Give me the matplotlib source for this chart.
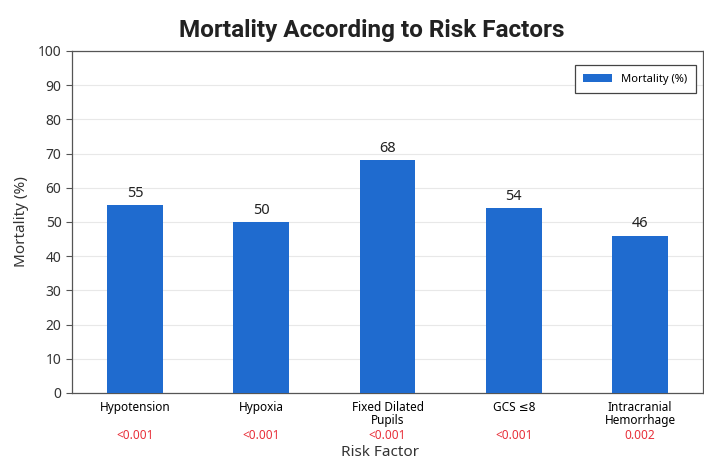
import numpy as np
import matplotlib.pyplot as plt
import matplotlib.transforms as mtransforms

plt.rcParams['font.family'] = ['Noto Sans', 'DejaVu Sans']

# Données
factors = ['Hypotension', 'Hypoxia', 'Fixed Dilated\nPupils', 'GCS ≤8', 'Intracranial\nHemorrhage']
mortality = [55, 50, 68, 54, 46]
p_values = ['<0.001', '<0.001', '<0.001', '<0.001', '0.002']

fig = plt.figure(figsize=(7.04, 4.59), dpi=100)
ax = fig.add_axes([0.102, 0.144, 0.897, 0.745])

x = np.arange(len(factors))
bars = ax.bar(x, mortality, width=0.44, color='#1f6bcf', label='Mortality (%)', zorder=3)

# Valeurs au-dessus des barres
for xi, v in zip(x, mortality):
    ax.annotate(f'{v}', xy=(xi, v), xytext=(0, 3), textcoords='offset points',
                ha='center', va='bottom', fontsize=10.5, color='#222222')

# p-values sous les étiquettes
trans = mtransforms.blended_transform_factory(ax.transData, ax.transAxes)
for xi, p in zip(x, p_values):
    ax.text(xi, -0.125, p, transform=trans, ha='center', va='center',
            fontsize=8.5, color='#e8303a')

ax.set_xlim(-0.5, 4.5)
ax.set_ylim(0, 100)
ax.set_yticks(np.arange(0, 101, 10))
ax.set_xticks(x)
ax.set_xticklabels(factors, fontsize=8.5, linespacing=1.0)
ax.tick_params(axis='x', length=0, pad=6)
ax.tick_params(axis='y', labelsize=10, length=4, color='#555555', labelcolor='#333333')
ax.grid(axis='y', color='#e8e8e8', linewidth=0.8, zorder=0)

for s in ax.spines.values():
    s.set_color('#555555')
    s.set_linewidth(0.9)

ax.set_ylabel('Mortality (%)', fontsize=11, color='#333333', labelpad=6)
fig.text(0.54, 1 - 452 / 459, 'Risk Factor', ha='center', va='center',
         fontsize=11, color='#333333')

fig.text(0.528, 1 - 30 / 459, 'Mortality According to Risk Factors', ha='center', va='center',
         fontsize=17.5, fontweight='bold', color='#222222', family=['Roboto', 'DejaVu Sans'])

leg = ax.legend(loc='upper right', fontsize=8, fancybox=False, framealpha=1,
                edgecolor='#444444', borderpad=0.8, handlelength=2.6,
                borderaxespad=0, bbox_to_anchor=(0.989, 0.96))
leg.get_frame().set_linewidth(0.9)

fig.savefig('out.png', dpi=100)
